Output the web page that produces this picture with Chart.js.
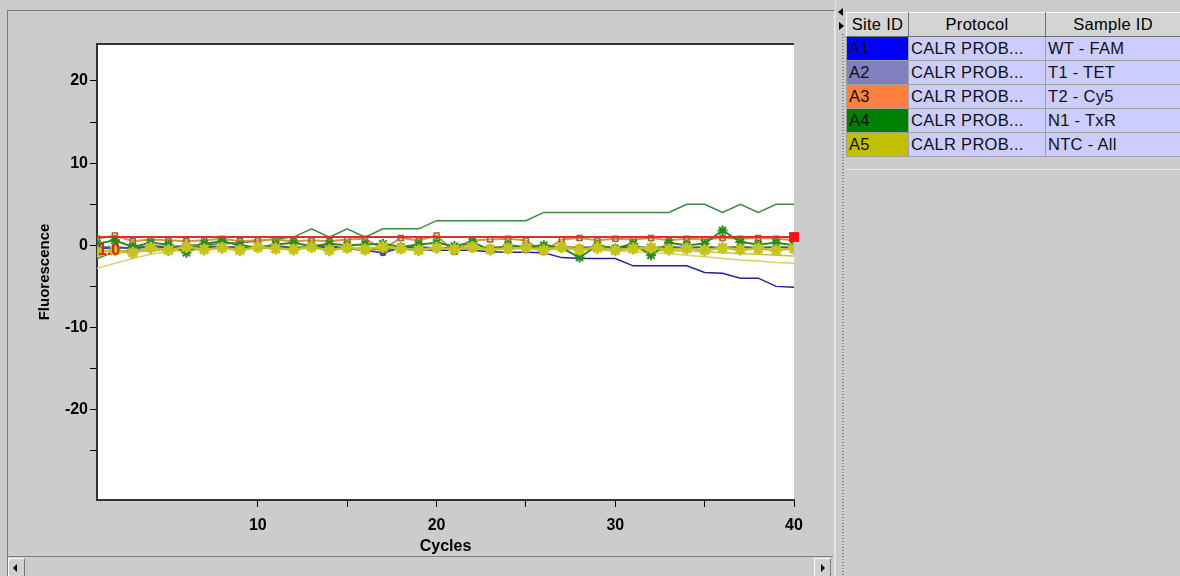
<!DOCTYPE html>
<html>
<head>
<meta charset="utf-8">
<script src="https://cdn.jsdelivr.net/npm/chart.js@4/dist/chart.umd.min.js"></script>
<style>
body { margin:0; width:1180px; height:576px; overflow:hidden; background:#cccccc; font-family:"Liberation Sans", Arial, sans-serif; position:relative; }
#frame { position:absolute; left:7px; top:10px; width:826px; height:566px; border-top:1px solid #7a7a7a; border-left:1px solid #7a7a7a; border-right:1px solid #e8e8e8; }
#plot { position:absolute; left:0; top:0; }
#split { position:absolute; left:835px; top:0; width:10px; height:576px; background:#cccccc; border-left:1px solid #e0e0e0; }
#split .dots { position:absolute; left:6px; top:34px; width:2px; height:542px; background-image:linear-gradient(#888 50%, transparent 50%); background-size:2px 3px; }
.tri { position:absolute; left:2px; width:0; height:0; border-top:4px solid transparent; border-bottom:4px solid transparent; }
#triL { top:8px; border-right:5px solid #000; }
#triR { top:22px; left:3px; border-left:5px solid #000; }
#tbl { position:absolute; left:846px; top:12px; border-collapse:collapse; font-size:16.5px; table-layout:fixed; width:334px; }
#tbl td, #tbl th { height:23px; padding:0 2px; border:1px solid #a0a0a0; white-space:nowrap; overflow:hidden; letter-spacing:0.3px; }
#tbl th { background:#d4d4d4; font-weight:normal; text-align:center; border-top:1px solid #fff; border-left:1px solid #fff; border-right:1px solid #707070; border-bottom:1px solid #707070; }
#tbl td { background:#ccccff; color:#111; }
#under { position:absolute; left:846px; top:169px; width:334px; height:1px; background:#e8e8e8; }
#hscroll { position:absolute; left:8px; top:556px; width:825px; height:20px; background:#cccccc; border-top:1px solid #808080; }
.btn { position:absolute; top:1px; width:15px; height:18px; background:#d0d0d0; border-top:1px solid #fff; border-left:1px solid #fff; border-right:1px solid #777; }
#bl { left:0; } #br { right:2px; }
.btn span { position:absolute; top:5px; width:0; height:0; border-top:4px solid transparent; border-bottom:4px solid transparent; }
#bl span { left:4px; border-right:4px solid #000; }
#br span { left:6px; border-left:4px solid #000; }
</style>
</head>
<body>
<div id="frame"></div>
<canvas id="plot" width="835" height="556"></canvas>
<div id="split"><div class="tri" id="triL"></div><div class="tri" id="triR"></div><div class="dots"></div></div>
<table id="tbl">
<colgroup><col style="width:62px"><col style="width:137px"><col style="width:135px"></colgroup>
<tr><th>Site ID</th><th>Protocol</th><th>Sample ID</th></tr>
<tr><td style="background:#0000ff">A1</td><td>CALR PROB...</td><td>WT - FAM</td></tr>
<tr><td style="background:#8080c0">A2</td><td>CALR PROB...</td><td>T1 - TET</td></tr>
<tr><td style="background:#ff8040">A3</td><td>CALR PROB...</td><td>T2 - Cy5</td></tr>
<tr><td style="background:#008000">A4</td><td>CALR PROB...</td><td>N1 - TxR</td></tr>
<tr><td style="background:#c0c000">A5</td><td>CALR PROB...</td><td>NTC - All</td></tr>
</table>
<div id="under"></div>
<div id="hscroll"><div class="btn" id="bl"><span></span></div><div class="btn" id="br"><span></span></div></div>

<script>
// cycles 1..40
const cycles = [1,2,3,4,5,6,7,8,9,10,11,12,13,14,15,16,17,18,19,20,21,22,23,24,25,26,27,28,29,30,31,32,33,34,35,36,37,38,39,40];
const xTicks = [10,15,20,25,30,35,40];
const yTicks = [-25,-20,-15,-10,-5,0,5,10,15,20];
const threshold = 1.0;

// curves
const greenRise = [-1.6,-0.8,-0.6,-0.4,-0.2,0,0.1,0.2,0.3,0.5,0.8,1.0,2.0,1.0,2.0,1.0,2.0,2.0,2.0,3.0,3.0,3.0,3.0,3.0,3.0,4.0,4.0,4.0,4.0,4.0,4.0,4.0,4.0,5.0,5.0,4.0,5.0,4.0,5.0,5.0];
const blueFall = [-0.4,-0.3,-0.3,-0.2,-0.3,-0.4,-0.3,-0.3,-0.2,-0.3,-0.3,-0.4,-0.3,-0.3,-0.4,-0.5,-0.4,-0.5,-0.5,-0.6,-0.6,-0.6,-0.8,-0.85,-0.85,-0.9,-1.5,-1.6,-1.6,-1.6,-2.5,-2.5,-2.5,-2.5,-3.3,-3.4,-4.0,-4.0,-5.0,-5.1];
const yellowFall = [-2.8,-2.2,-1.6,-1.1,-0.8,-0.6,-0.5,-0.4,-0.4,-0.3,-0.3,-0.3,-0.3,-0.3,-0.3,-0.3,-0.3,-0.3,-0.3,-0.3,-0.3,-0.3,-0.3,-0.4,-0.4,-0.4,-0.5,-0.5,-0.6,-0.7,-0.8,-0.9,-1.0,-1.2,-1.4,-1.6,-1.8,-1.9,-2.1,-2.2];
const yellowDrift = [-1.2,-1.0,-0.8,-0.7,-0.6,-0.5,-0.5,-0.4,-0.4,-0.4,-0.3,-0.3,-0.3,-0.3,-0.3,-0.3,-0.3,-0.3,-0.3,-0.3,-0.3,-0.3,-0.3,-0.3,-0.3,-0.3,-0.4,-0.4,-0.4,-0.5,-0.5,-0.6,-0.7,-0.7,-0.8,-0.9,-1.0,-1.1,-1.2,-1.3];
const oliveStars = [-0.8,-0.6,-0.9,-0.3,-0.6,-0.2,-0.5,-0.3,-0.6,-0.2,-0.4,-0.5,-0.2,-0.6,-0.3,-0.5,-0.2,-0.4,-0.6,-0.3,-0.5,-0.2,-0.5,-0.4,-0.3,-0.6,-0.2,-0.5,-0.3,-0.6,-0.4,-0.3,-0.5,-0.4,-0.6,-0.3,-0.5,-0.4,-0.6,-0.4];
const greenStars = [0.2,0.6,-0.2,0.3,0.1,-0.9,0.2,0.5,0.0,-0.3,0.1,0.3,-0.1,0.2,0.0,0.1,0.2,-0.2,0.1,0.3,-0.1,0.4,-0.6,0.0,-0.2,0.0,-0.3,-1.5,0.0,-0.4,0.2,-1.2,0.3,0.0,0.2,1.8,0.4,0.1,0.3,0.0];
const orangeMarks = [0.8,1.2,0.5,0.7,0.6,0.5,0.6,0.8,0.5,0.6,0.7,0.5,0.6,0.5,0.7,0.8,-0.5,0.9,0.6,1.2,-0.8,0.6,0.7,0.8,0.6,-0.8,0.7,0.9,0.6,0.8,0.7,0.9,0.6,0.8,0.7,0.9,0.8,0.9,0.8,0.6];
const navyMarks = [-0.3,-0.2,-0.4,-0.1,-0.2,-0.3,-0.1,-0.2,-0.3,-0.2,-0.1,-0.3,-0.2,-0.1,-0.4,-0.6,-0.9,-0.3,-0.2,-0.4,-0.2,-0.4,-0.3,-0.2,-0.3,-0.4,-0.2,-0.3,-0.2,-0.3,-0.2,-0.3,-0.2,-0.3,-0.2,-0.3,-0.2,-0.3,-0.2,-0.3];

function pts(arr) {
    return arr.map(function(v, i) { return {x: cycles[i], y: v}; });
}

function line(label, arr, color, extra) {
    var ds = {label: label, data: pts(arr), borderColor: color, backgroundColor: color,
        borderWidth: 1.5, pointRadius: 0, tension: 0};
    return Object.assign(ds, extra || {});
}

const bgPlugin = {
    id: 'bg',
    beforeDraw: function(chart) {
        var a = chart.chartArea, c = chart.ctx;
        c.save();
        c.fillStyle = '#ffffff';
        c.fillRect(a.left, a.top, a.right - a.left, a.bottom - a.top);
        c.strokeStyle = '#333';
        c.lineWidth = 2;
        c.beginPath();
        c.moveTo(a.left, a.top); c.lineTo(a.right, a.top);
        c.stroke();
        c.restore();
    },
    afterDatasetsDraw: function(chart) {
        var c = chart.ctx;
        var y = chart.scales.y.getPixelForValue(threshold);
        c.save();
        c.fillStyle = '#e02010';
        c.font = 'bold 16px "Liberation Sans", Arial';
        c.textBaseline = 'top';
        c.fillText(threshold.toFixed(1), chart.chartArea.left + 1, y + 6);
        c.restore();
    }
};

const ctx = document.getElementById('plot').getContext('2d');
const myChart = new Chart(ctx, {
    type: 'line',
    data: {
        datasets: [
            line('thr', [threshold, threshold], '#e03020', {
                data: [{x: 1, y: threshold}, {x: 40, y: threshold}],
                pointRadius: [0, 7], pointStyle: 'rect', clip: false, borderWidth: 2, pointBorderWidth: 0, backgroundColor: '#ff1010'
            }),
            line('A5 stars', oliveStars, '#c4c41c', {pointStyle: 'star', pointRadius: 6, pointBorderWidth: 3, borderWidth: 2.5}),
            line('A4 stars', greenStars, '#2a8a1a', {pointStyle: 'star', pointRadius: 5, pointBorderWidth: 2, borderWidth: 2}),
            line('A3', orangeMarks, '#d8904a', {pointStyle: 'rect', pointRadius: 3.5, pointBorderWidth: 1.5, borderWidth: 2, pointBackgroundColor: 'rgba(0,0,0,0)', pointBorderColor: '#a06030'}),
            line('A2', navyMarks, '#4a4a9a', {pointStyle: 'circle', pointRadius: 2.5, borderWidth: 2}),
            line('A1', blueFall, '#2020a0'),
            line('A5', yellowFall, '#d8d060', {borderWidth: 1.5}),
            line('A5b', yellowDrift, '#c8c040', {borderWidth: 1.5}),
            line('A4', greenRise, '#3a8a3a')
        ]
    },
    plugins: [bgPlugin],
    options: {
        animation: false,
        responsive: false,
        events: [],
        layout: {padding: {top: 44, right: 41, left: 0, bottom: 0}},
        plugins: {legend: {display: false}, tooltip: {enabled: false}},
        scales: {
            x: {
                type: 'linear', min: 1, max: 40,
                afterFit: function(s) { s.height = 56; },
                afterBuildTicks: function(s) { s.ticks = xTicks.map(function(v) { return {value: v}; }); },
                ticks: {color: '#000', padding: 9, maxRotation: 0, font: {family: '"Liberation Sans", Arial', size: 16, weight: 'bold'},
                    callback: function(v) { return v % 10 === 0 ? v : ''; }},
                grid: {drawOnChartArea: false, color: '#000', tickLength: 7},
                border: {color: '#333', width: 2},
                title: {display: true, text: 'Cycles', color: '#000', padding: {top: 0, bottom: 0},
                    font: {family: '"Liberation Sans", Arial', size: 16, weight: 'bold'}}
            },
            y: {
                min: -31, max: 24.5,
                afterFit: function(s) { s.width = 97; },
                afterBuildTicks: function(s) { s.ticks = yTicks.map(function(v) { return {value: v}; }); },
                ticks: {color: '#000', padding: 2, font: {family: '"Liberation Sans", Arial', size: 16, weight: 'bold'},
                    callback: function(v) { return v % 10 === 0 ? v : ''; }},
                grid: {drawOnChartArea: false, color: '#000', tickLength: 7},
                border: {color: '#333', width: 2},
                title: {display: true, text: 'Fluorescence', color: '#000', padding: {top: 36, bottom: 0},
                    font: {family: '"Liberation Sans", Arial', size: 15, weight: 'bold'}}
            }
        }
    }
});
</script>
</body>
</html>
